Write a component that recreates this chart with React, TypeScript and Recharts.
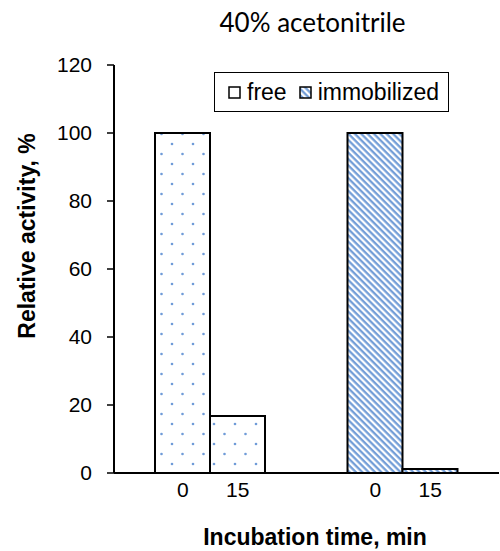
import React from 'react';
import { BarChart, Bar, XAxis, YAxis, Cell } from 'recharts';

// two sample groups, each measured at 0 and 15 min
const groups = ['free', 'immobilized'];
const activityAt0 = [100, 100];
const activityAt15 = [16.8, 1.2];
const timeLabels = ['0', '15'];
const yTicks = [0, 20, 40, 60, 80, 100, 120];

const data = groups.map((g, i) => ({ group: g, t0: activityAt0[i], t15: activityAt15[i] }));

const fills: Record<string, string> = { free: 'url(#dots)', immobilized: 'url(#hatch)' };

const BAR_SIZE = 55;
const axisFont = '"Liberation Sans", Arial, sans-serif';

const TimeTick = (props: any) => {
  const { x, y } = props;
  return (
    <g>
      {timeLabels.map((t, i) => (
        <text
          key={t}
          x={x + (i === 0 ? -BAR_SIZE / 2 : BAR_SIZE / 2)}
          y={y + 16}
          textAnchor="middle"
          fontSize={21}
          fontFamily={axisFont}
          fill="#000"
        >
          {t}
        </text>
      ))}
    </g>
  );
};

const LegendBox = () => (
  <div
    style={{
      position: 'absolute', left: 214, top: 72,
      border: '1.5px solid #000',
      background: '#fff',
      width: 235,
      height: 40,
      boxSizing: 'border-box',
      display: 'flex',
      alignItems: 'center',
      paddingLeft: 13,
      fontFamily: axisFont,
      fontSize: 23,
      color: '#000',
    }}
  >
    <svg width={13} height={13} style={{ marginRight: 6 }}>
      <rect x={1} y={1} width={11} height={11} fill="#fff" stroke="#000" strokeWidth={1.5} />
    </svg>
    <span style={{ marginRight: 12 }}>free</span>
    <svg width={13} height={13} style={{ marginRight: 6 }}>
      <rect x={1} y={1} width={11} height={11} fill="url(#hatch)" stroke="#000" strokeWidth={1.5} />
    </svg>
    <span>immobilized</span>
  </div>
);

export default function App() {
  return (
    <div style={{ position: 'absolute', left: 0, top: 0, width: 500, height: 551, background: '#fff' }}>
      <BarChart
        width={500}
        height={551}
        data={data}
        margin={{ top: 65, right: 1, bottom: 48, left: 54 }}
        barGap={0}
        barSize={BAR_SIZE}
      >
        <defs>
          <pattern id="dots" width={21} height={20} patternUnits="userSpaceOnUse">
            <rect width={21} height={20} fill="#fff" />
            <circle cx={4} cy={4} r={1.3} fill="#6f9bd8" />
            <circle cx={14.5} cy={14} r={1.3} fill="#6f9bd8" />
          </pattern>
          <pattern id="hatch" width={4.5} height={4.5} patternUnits="userSpaceOnUse" patternTransform="rotate(45)">
            <rect width={4.5} height={4.5} fill="#fff" />
            <line x1={0} y1={1.2} x2={4.5} y2={1.2} stroke="#6d9ad6" strokeWidth={2.2} />
          </pattern>
        </defs>
        <XAxis
          dataKey="group"
          height={30}
          axisLine={{ stroke: '#000', strokeWidth: 2 }}
          tickLine={false}
          tick={<TimeTick />}
          interval={0}
        />
        <XAxis xAxisId="top" orientation="top" dataKey="group" height={0} tick={false} tickLine={false}
          axisLine={{ stroke: '#000', strokeWidth: 2 }} />
        <YAxis
          domain={[0, 120]}
          ticks={yTicks}
          width={60}
          tickSize={7}
          tickMargin={15}
          axisLine={{ stroke: '#000', strokeWidth: 2 }}
          tickLine={{ stroke: '#000', strokeWidth: 1.5 }}
          tick={{ fontSize: 21, fill: '#000', fontFamily: axisFont }}
          interval={0}
        />
        <YAxis yAxisId="right" orientation="right" width={0} tick={false} tickLine={false}
          axisLine={{ stroke: '#555', strokeWidth: 1 }} />
        <Bar dataKey="t0" stroke="#000" strokeWidth={2} isAnimationActive={false}>
          {data.map((d) => <Cell key={d.group} fill={fills[d.group]} />)}
        </Bar>
        <Bar dataKey="t15" stroke="#000" strokeWidth={2} isAnimationActive={false}>
          {data.map((d) => <Cell key={d.group} fill={fills[d.group]} />)}
        </Bar>
      </BarChart>
      <div
        style={{
          position: 'absolute', left: 0, width: 625, top: 6, textAlign: 'center',
          fontFamily: 'Lato, "Open Sans", sans-serif', fontSize: 26, color: '#000',
        }}
      >
        40% acetonitrile
      </div>
      <div
        style={{
          position: 'absolute', left: 27, top: 236, transform: 'translate(-50%, -50%) rotate(-90deg)',
          whiteSpace: 'nowrap', fontFamily: axisFont, fontWeight: 'bold', fontSize: 23, color: '#000',
        }}
      >
        Relative activity, %
      </div>
      <div
        style={{
          position: 'absolute', left: 315, top: 537, transform: 'translate(-50%, -50%)',
          whiteSpace: 'nowrap', fontFamily: axisFont, fontWeight: 'bold', fontSize: 23, color: '#000',
        }}
      >
        Incubation time, min
      </div>
      <LegendBox />
    </div>
  );
}
